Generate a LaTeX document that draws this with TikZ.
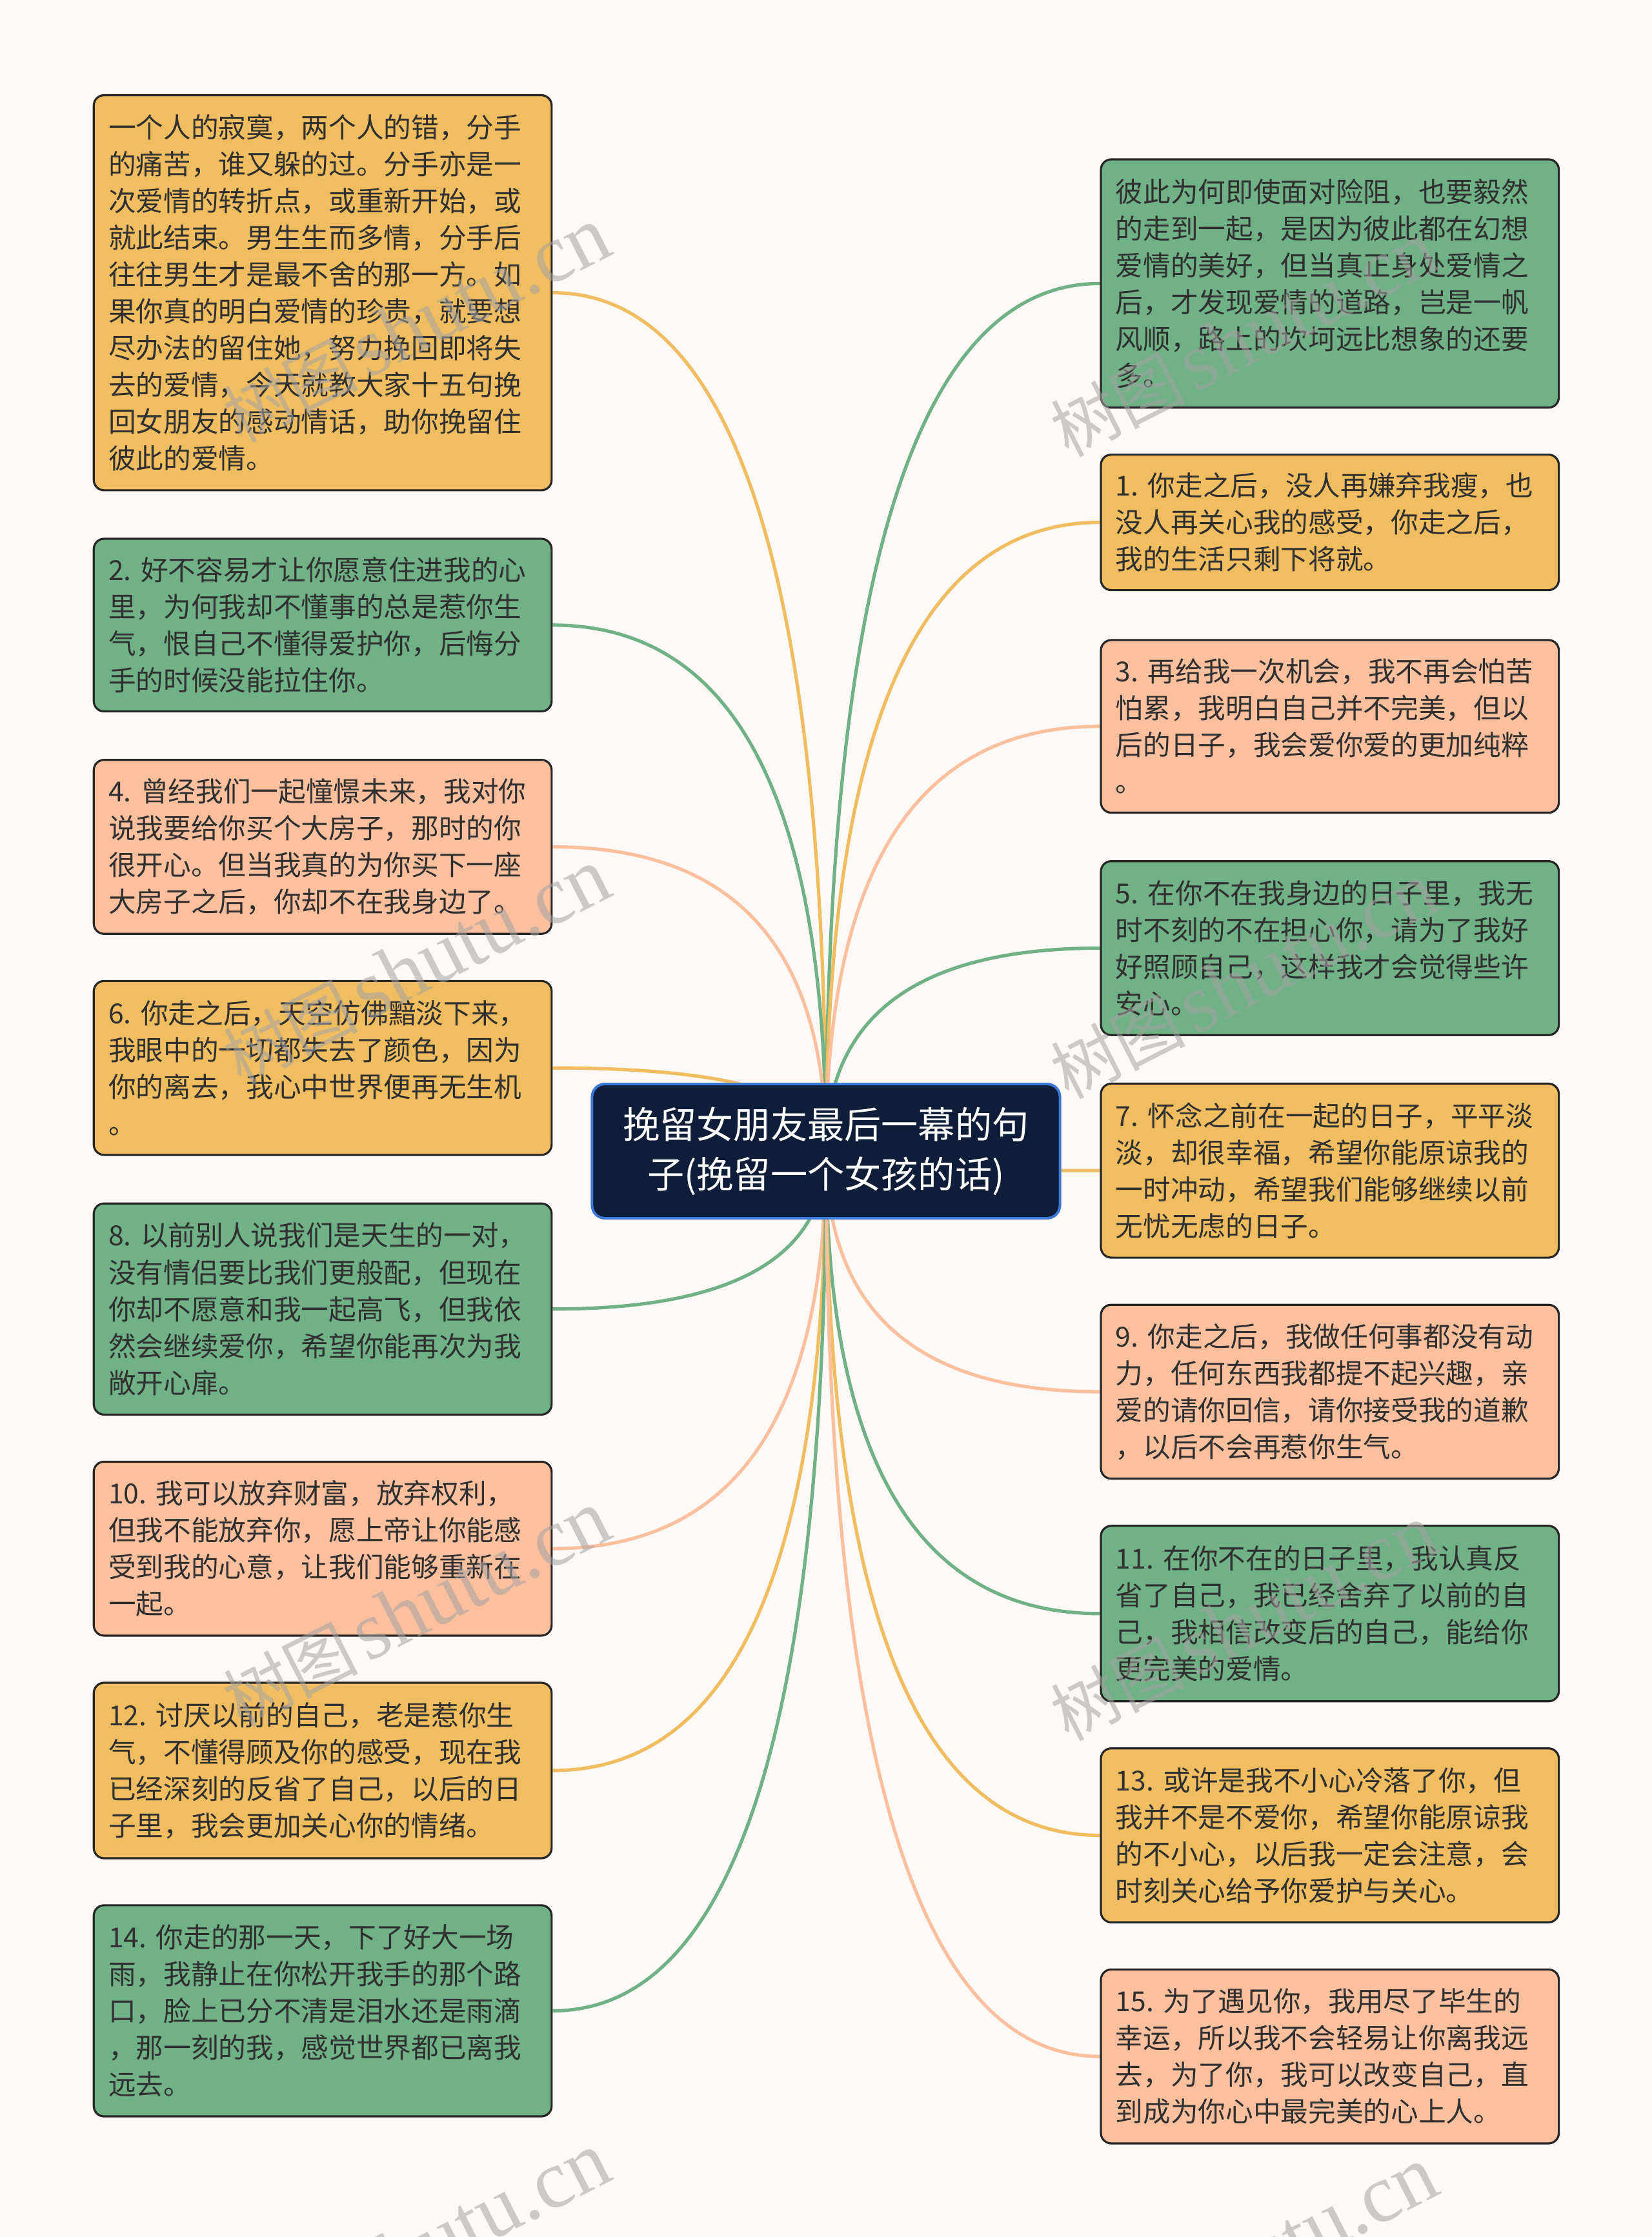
\documentclass[tikz,border=0pt]{standalone}
\usepackage{fontspec}
\newfontfamily\cjk{Noto Sans CJK SC}
\newfontfamily\wmserif{Liberation Serif}
\usetikzlibrary{calc,backgrounds}
\definecolor{bgc}{HTML}{FCF9F7}
\definecolor{gr}{HTML}{70B185}
\definecolor{og}{HTML}{F0BD60}
\definecolor{sa}{HTML}{FCC09E}
\definecolor{navy}{HTML}{0E1D38}
\definecolor{navyb}{HTML}{3B78D6}
\definecolor{txt}{HTML}{303030}
\definecolor{wmc}{HTML}{A4A4A4}
\newcommand{\nsp}{\kern3.6pt}
\begin{document}
\begin{tikzpicture}[x=0.5527pt,y=-0.5527pt,
  box/.style={draw=black!85, line width=0.8pt, rounded corners=4pt, fill=#1,
    anchor=north west, text width=166pt, align=left, inner xsep=5.7pt, inner ysep=0pt,
    font=\cjk\fontsize{10.67pt}{14.26pt}\selectfont, text=txt},
  rootbox/.style={fill=navy, draw=navyb, line width=1pt, rounded corners=5pt,
    minimum width=181.3pt, minimum height=52pt, text=white, align=center, inner sep=0pt,
    font=\cjk\fontsize{14.3pt}{19.3pt}\selectfont},
  conn/.style={draw=#1, line width=1.3pt},
  qc/.style={to path={.. controls ($(\tikztostart)!0.6667!(\tikztostart |- \tikztotarget)$) and ($(\tikztotarget)!0.6667!(\tikztostart |- \tikztotarget)$) .. (\tikztotarget)}},
  wm/.style={rotate=27, text=wmc, text opacity=0.55, inner sep=0pt}
]
\useasboundingbox (0,0) rectangle (1158,1568.3);

% root
\node[rootbox] (root) at (579,807) {挽留女朋友最后一幕的句\\子(挽留一个女孩的话)};

% left boxes
\node[box=og, minimum height=153.1pt] (l1) at (65,66) {一个人的寂寞，两个人的错，分手\\的痛苦，谁又躲的过。分手亦是一\\次爱情的转折点，或重新开始，或\\就此结束。男生生而多情，分手后\\往往男生才是最不舍的那一方。如\\果你真的明白爱情的珍贵，就要想\\尽办法的留住她，努力挽回即将失\\去的爱情，今天就教大家十五句挽\\回女朋友的感动情话，助你挽留住\\彼此的爱情。};
\node[box=gr, minimum height=66.9pt] (l2) at (65,377) {2.\nsp 好不容易才让你愿意住进我的心\\里，为何我却不懂事的总是惹你生\\气，恨自己不懂得爱护你，后悔分\\手的时候没能拉住你。};
\node[box=sa, minimum height=67.4pt] (l3) at (65,532) {4.\nsp 曾经我们一起憧憬未来，我对你\\说我要给你买个大房子，那时的你\\很开心。但当我真的为你买下一座\\大房子之后，你却不在我身边了。};
\node[box=og, minimum height=67.4pt] (l4) at (65,687) {6.\nsp 你走之后，天空仿佛黯淡下来，\\我眼中的一切都失去了颜色，因为\\你的离去，我心中世界便再无生机\\。};
\node[box=gr, minimum height=81.8pt] (l5) at (65,843) {8.\nsp 以前别人说我们是天生的一对，\\没有情侣要比我们更般配，但现在\\你却不愿意和我一起高飞，但我依\\然会继续爱你，希望你能再次为我\\敞开心扉。};
\node[box=sa, minimum height=67.4pt] (l6) at (65,1024) {10.\nsp 我可以放弃财富，放弃权利，\\但我不能放弃你，愿上帝让你能感\\受到我的心意，让我们能够重新在\\一起。};
\node[box=og, minimum height=68pt] (l7) at (65,1179) {12.\nsp 讨厌以前的自己，老是惹你生\\气，不懂得顾及你的感受，现在我\\已经深刻的反省了自己，以后的日\\子里，我会更加关心你的情绪。};
\node[box=gr, minimum height=81.8pt] (l8) at (65,1335) {14.\nsp 你走的那一天，下了好大一场\\雨，我静止在你松开我手的那个路\\口，脸上已分不清是泪水还是雨滴\\，那一刻的我，感觉世界都已离我\\远去。};

% right boxes
\node[box=gr, minimum height=96.2pt] (r1) at (771,111) {彼此为何即使面对险阻，也要毅然\\的走到一起，是因为彼此都在幻想\\爱情的美好，但当真正身处爱情之\\后，才发现爱情的道路，岂是一帆\\风顺，路上的坎坷远比想象的还要\\多。};
\node[box=og, minimum height=52.5pt] (r2) at (771,318) {1.\nsp 你走之后，没人再嫌弃我瘦，也\\没人再关心我的感受，你走之后，\\我的生活只剩下将就。};
\node[box=sa, minimum height=66.9pt] (r3) at (771,448) {3.\nsp 再给我一次机会，我不再会怕苦\\怕累，我明白自己并不完美，但以\\后的日子，我会爱你爱的更加纯粹\\。};
\node[box=gr, minimum height=67.4pt] (r4) at (771,603) {5.\nsp 在你不在我身边的日子里，我无\\时不刻的不在担心你，请为了我好\\好照顾自己，这样我才会觉得些许\\安心。};
\node[box=og, minimum height=67.4pt] (r5) at (771,759) {7.\nsp 怀念之前在一起的日子，平平淡\\淡，却很幸福，希望你能原谅我的\\一时冲动，希望我们能够继续以前\\无忧无虑的日子。};
\node[box=sa, minimum height=67.4pt] (r6) at (771,914) {9.\nsp 你走之后，我做任何事都没有动\\力，任何东西我都提不起兴趣，亲\\爱的请你回信，请你接受我的道歉\\，以后不会再惹你生气。};
\node[box=gr, minimum height=68pt] (r7) at (771,1069) {11.\nsp 在你不在的日子里，我认真反\\省了自己，我已经舍弃了以前的自\\己，我相信改变后的自己，能给你\\更完美的爱情。};
\node[box=og, minimum height=67.4pt] (r8) at (771,1225) {13.\nsp 或许是我不小心冷落了你，但\\我并不是不爱你，希望你能原谅我\\的不小心，以后我一定会注意，会\\时刻关心给予你爱护与关心。};
\node[box=sa, minimum height=67.4pt] (r9) at (771,1380) {15.\nsp 为了遇见你，我用尽了毕生的\\幸运，所以我不会轻易让你离我远\\去，为了你，我可以改变自己，直\\到成为你心中最完美的心上人。};

% connectors behind
\begin{scope}[on background layer]
\fill[bgc] (0,0) rectangle (1158,1568.3);
\draw[conn=og] (root.center) to[qc] (l1.east);
\draw[conn=gr] (root.center) to[qc] (l2.east);
\draw[conn=sa] (root.center) to[qc] (l3.east);
\draw[conn=og] (root.center) to[qc] (l4.east);
\draw[conn=gr] (root.center) to[qc] (l5.east);
\draw[conn=sa] (root.center) to[qc] (l6.east);
\draw[conn=og] (root.center) to[qc] (l7.east);
\draw[conn=gr] (root.center) to[qc] (l8.east);
\draw[conn=gr] (root.center) to[qc] (r1.west);
\draw[conn=og] (root.center) to[qc] (r2.west);
\draw[conn=sa] (root.center) to[qc] (r3.west);
\draw[conn=gr] (root.center) to[qc] (r4.west);
\draw[conn=og] (root.center) to[qc] (r5.west);
\draw[conn=sa] (root.center) to[qc] (r6.west);
\draw[conn=gr] (root.center) to[qc] (r7.west);
\draw[conn=og] (root.center) to[qc] (r8.west);
\draw[conn=sa] (root.center) to[qc] (r9.west);
\end{scope}

% watermarks
\foreach \wx/\wy [count=\i] in {292/228, 292/678, 292/1128, 292/1578, 872/238, 872/688, 872/1138, 872/1588}{
  \node[wm] (wm\i) at (\wx,\wy) {{\cjk\fontsize{26pt}{26pt}\selectfont 树图} {\wmserif\fontsize{32pt}{32pt}\selectfont shutu.cn}};
}
\end{tikzpicture}
\end{document}
